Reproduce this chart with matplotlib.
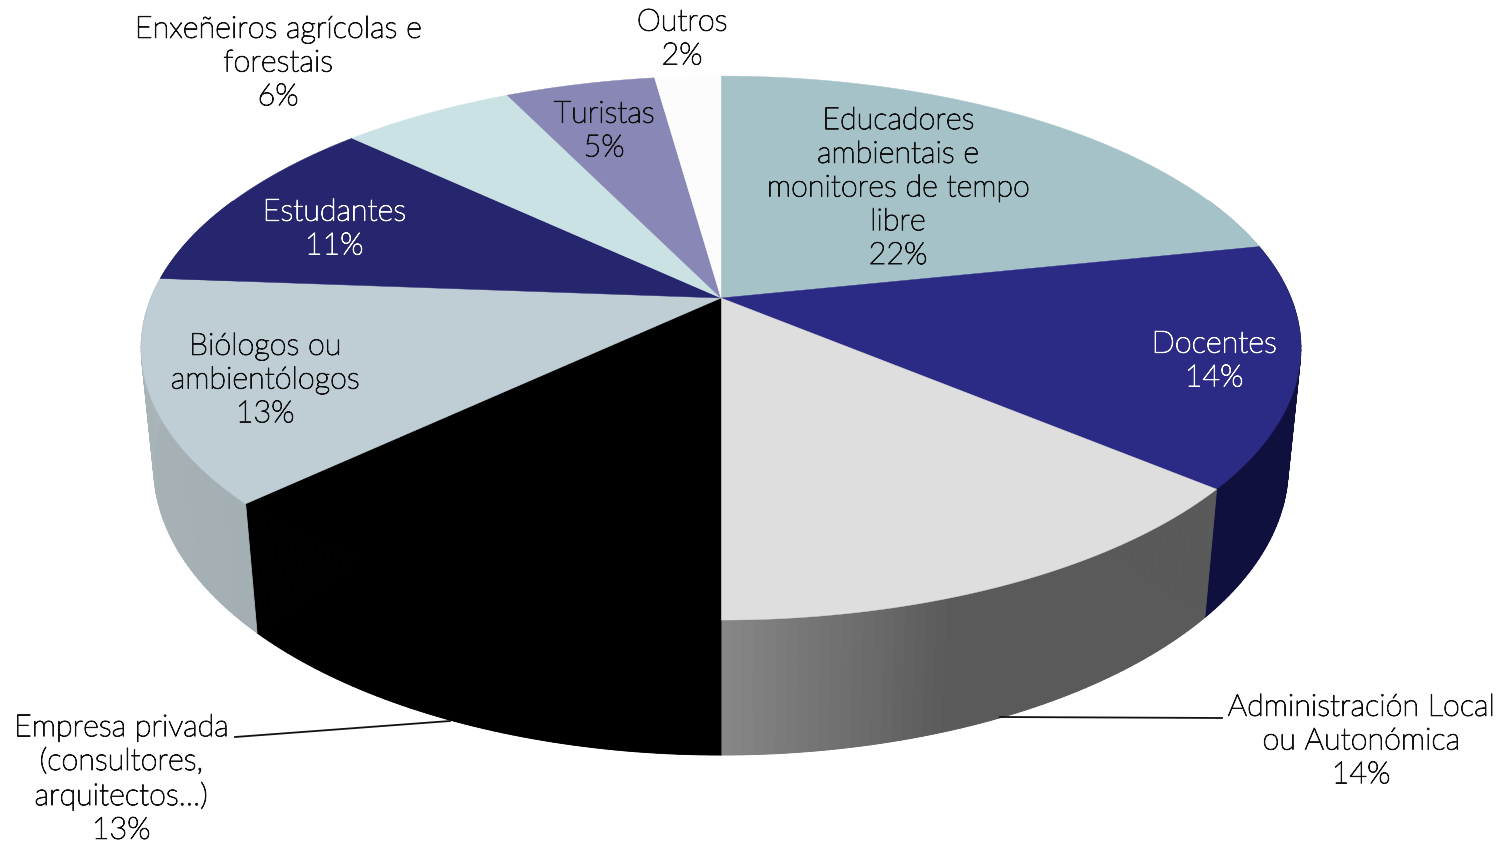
import numpy as np
import matplotlib
matplotlib.use("Agg")
import matplotlib.pyplot as plt
import matplotlib.patheffects as pe
from matplotlib.collections import PolyCollection
from matplotlib.colors import to_rgb

categories = ["Educadores\nambientais e\nmonitores de tempo\nlibre", "Docentes",
              "Administración Local\nou Autonómica", "Empresa privada\n(consultores,\narquitectos…)",
              "Biólogos ou\nambientólogos", "Estudantes", "Enxeñeiros agrícolas e\nforestais",
              "Turistas", "Outros"]
values = [21.75, 14.34, 13.91, 13.0, 13.2, 10.8, 5.8, 5.0, 2.2]
top_colors = ["#A5C2C8", "#2B2A84", "#DEDEDE", "#000000", "#BFCDD4", "#26266F", "#CBE2E5", "#8887B5", "#FCFCFC"]
wall_from = ["#8FA8AD", "#10103F", "#5A5A5A", "#000000", "#A3AFB2", "#1B1B50", "#AFC4C7", "#6E6D92", "#DADADA"]
wall_to = ["#8FA8AD", "#10103F", "#888888", "#000000", "#AAB6BA", "#1B1B50", "#AFC4C7", "#6E6D92", "#DADADA"]
label_xy = [(898, 188), (1214, 361), (1361, 741), (121, 779), (265, 380), (334, 229), (278, 63), (604, 131), (682, 39)]
label_color = ["#111111", "#FFFFFF", "#111111", "#111111", "#111111", "#FFFFFF", "#111111", "#111111", "#111111"]

CX, CY = 721.0, 298.0
A, B, K = 570.0, 262.8, 0.184
C, M = 120.0, 0.0215

def project(frac, r=1.0, h=0.0):
    th = 2 * np.pi * np.asarray(frac, float)
    x, y = r * np.sin(th), r * np.cos(th)
    w = 1 + K * y + M * h
    return CX + A * x / w, CY + (-B * y + C * h) / w

fig = plt.figure(figsize=(14.98, 8.43), dpi=100)
ax = fig.add_axes([0, 0, 1, 1])
ax.set_xlim(0, 1498)
ax.set_ylim(843, 0)
ax.axis("off")

edges = np.concatenate([[0], np.cumsum(values)]) / sum(values)

# side wall: a solid wedge under each slice, then thin shaded strips on top of it
polys, cols = [], []
for i in range(len(values)):
    n = max(4, int((edges[i + 1] - edges[i]) * 400))
    ts = np.linspace(edges[i], edges[i + 1], n + 1)
    ts = ts[np.cos(2 * np.pi * ts) < 0.4]
    if len(ts) < 2:
        continue
    c0, c1 = np.array(to_rgb(wall_from[i])), np.array(to_rgb(wall_to[i]))
    xt, yt = project(ts)
    xb, yb = project(ts, h=1)
    ax.fill(np.r_[CX, xb], np.r_[CY, yb], color=wall_from[i], lw=0, zorder=1)
    m = len(ts) - 1
    for j in range(m):
        polys.append([(xt[j], yt[j]), (xt[j + 1], yt[j + 1]), (xb[j + 1], yb[j + 1]), (xb[j], yb[j])])
        f = j / m
        s = max(0.0, (f - 0.6) / 0.4) if i == 2 else f
        cols.append(c0 + (c1 - c0) * s)
ax.add_collection(PolyCollection(polys, facecolors=cols, edgecolors=cols, linewidths=0.6, zorder=1.5))

# top face
for i in range(len(values)):
    ts = np.linspace(edges[i], edges[i + 1], 120)
    xs, ys = project(ts)
    ax.fill(np.r_[CX, xs], np.r_[CY, ys], color=top_colors[i], lw=0.3, zorder=2)

# leader lines
ax.plot([1000, 1222], [717, 718], color="#111111", lw=1.3, zorder=3)
ax.plot([235, 450], [737, 721], color="#111111", lw=1.3, zorder=3)

for name, v, (lx, ly), c in zip(categories, values, label_xy, label_color):
    ax.text(lx, ly, f"{name}\n{round(v)}%", ha="center", va="center", color=c,
            family="Lato", weight="light", fontsize=22, linespacing=1.205, zorder=4,
            path_effects=[pe.withStroke(linewidth=0.7, foreground=c)])

fig.savefig("out.png", dpi=100, facecolor="white")
